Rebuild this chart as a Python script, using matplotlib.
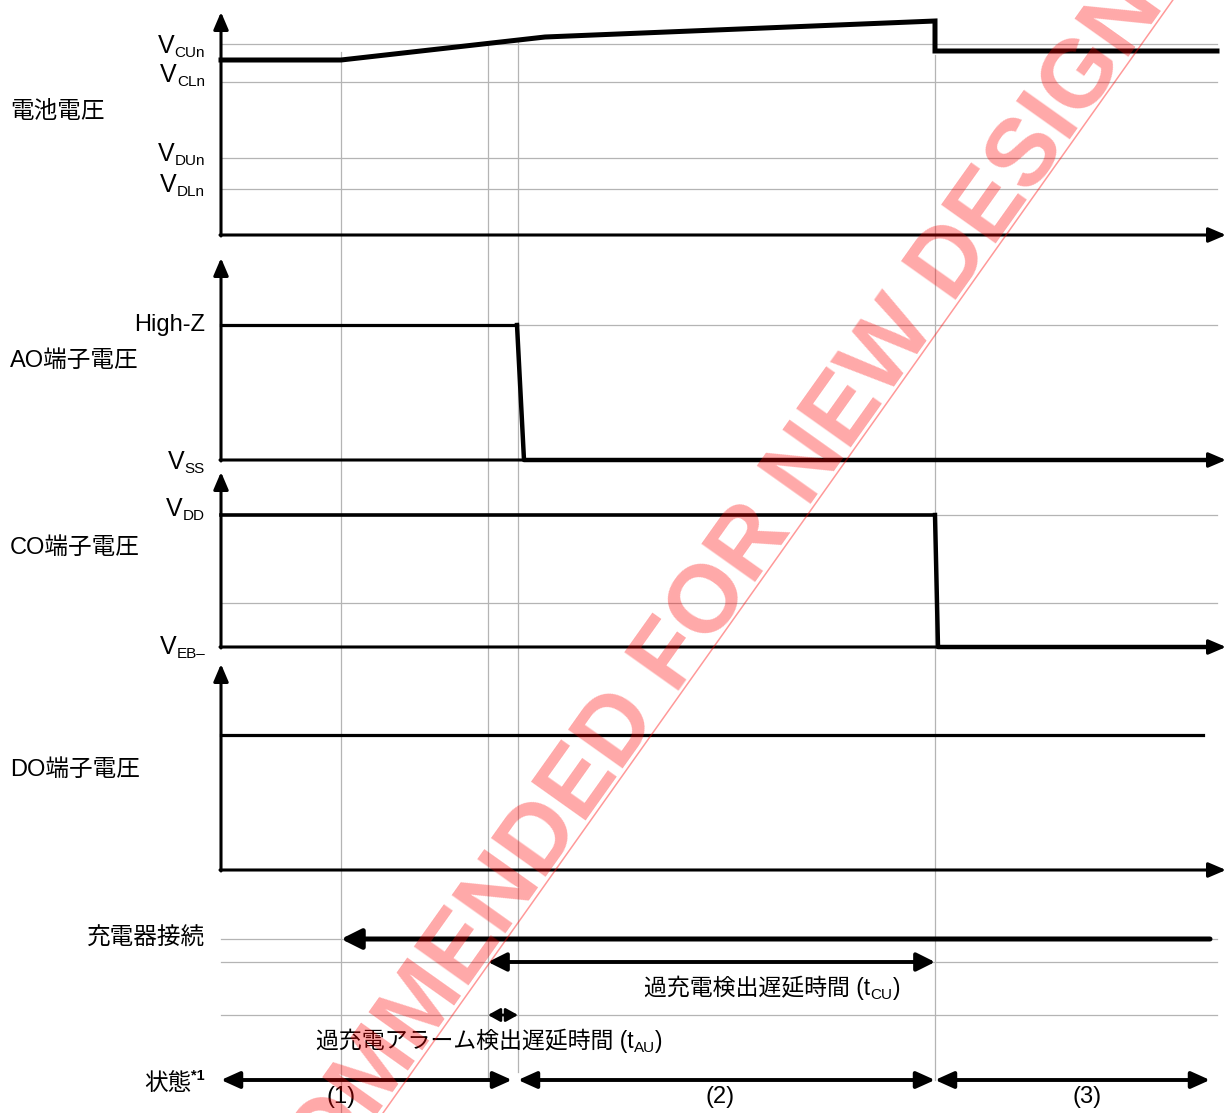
import matplotlib
matplotlib.use("Agg")
import matplotlib.pyplot as plt

FONTS = ['Liberation Sans', 'Noto Sans CJK JP', 'DejaVu Sans']
plt.rcParams['font.family'] = FONTS

# time marks (px-like schematic units)
t_start = 221
t_charger = 341
t_detect = 488
t_alarm = 518
t_cu = 935
t_end = 1217

# level positions for each panel
bat_levels = [44, 82, 158, 189]
bat_labels = [("V", "CUn"), ("V", "CLn"), ("V", "DUn"), ("V", "DLn")]
bat_base = 235
bat_top = 12

# battery voltage trace
bat_t = [221, 341, 545, 935, 935, 1217]
bat_v = [60, 60, 37, 21, 51, 51]

# AO pin
ao_hi, ao_lo, ao_top = 325, 460, 258
ao_t = [221, 517, 524, 1217]
ao_v = [325, 325, 460, 460]

# CO pin
co_hi, co_mid, co_lo, co_top = 515, 603, 647, 472
co_t = [221, 935, 938, 1217]
co_v = [515, 515, 647, 647]

# DO pin
do_lvl, do_base, do_top = 735, 870, 664
do_t = [221, 1203]
do_v = [735, 735]

# bottom rows
row_charger = 939
row_tcu = 962
row_tau = 1015
row_state = 1080
states = ["(1)", "(2)", "(3)"]
state_spans = [(221, 512), (518, 935), (935, 1210)]
state_label_x = [341, 720, 1087]

fig = plt.figure(figsize=(12.31, 11.13), dpi=100)
ax = fig.add_axes([0, 0, 1, 1])
ax.set_xlim(0, 1231)
ax.set_ylim(1113, 0)
ax.axis('off')

grid_c = '#b4b4b4'
grid_lw = 0.9

# horizontal grid lines
for y in bat_levels + [ao_hi, co_hi, co_mid, row_charger, row_tcu, row_tau]:
    ax.plot([t_start, t_end], [y, y], color=grid_c, lw=grid_lw, zorder=1)

# vertical grid lines
ax.plot([t_charger, t_charger], [52, 1113], color=grid_c, lw=grid_lw, zorder=1)
ax.plot([t_detect, t_detect], [45, 1078], color=grid_c, lw=grid_lw, zorder=1)
ax.plot([t_alarm, t_alarm], [40, 1072], color=grid_c, lw=grid_lw, zorder=1)
ax.plot([t_cu, t_cu], [55, 1080], color=grid_c, lw=grid_lw, zorder=1)

axis_lw = 2.2
head = '-|>,head_length=0.75,head_width=0.32'


def axis_arrows(base, top):
    ax.annotate('', xy=(t_start, top), xytext=(t_start, base + 1),
                arrowprops=dict(arrowstyle=head, lw=axis_lw, color='k',
                                shrinkA=0, shrinkB=0, mutation_scale=14), zorder=2)
    ax.annotate('', xy=(1226, base), xytext=(t_start - 1, base),
                arrowprops=dict(arrowstyle=head, lw=axis_lw, color='k',
                                shrinkA=0, shrinkB=0, mutation_scale=14), zorder=2)


axis_arrows(bat_base, bat_top)
axis_arrows(ao_lo, ao_top)
axis_arrows(co_lo, co_top)
axis_arrows(do_base, do_top)

# traces
ax.plot(bat_t, bat_v, color='k', lw=3.6, solid_joinstyle='miter', zorder=3)
ax.plot(ao_t[:2], ao_v[:2], color='k', lw=2.3, zorder=3)
ax.plot(ao_t[1:], ao_v[1:], color='k', lw=3.2, zorder=3)
ax.plot(co_t[:2], co_v[:2], color='k', lw=2.6, zorder=3)
ax.plot(co_t[1:], co_v[1:], color='k', lw=3.2, zorder=3)
ax.plot(do_t, do_v, color='k', lw=2.3, zorder=3)


def arrow(x0, x1, y, style, lw, ms):
    ax.annotate('', xy=(x1, y), xytext=(x0, y),
                arrowprops=dict(arrowstyle=style, lw=lw, color='k',
                                shrinkA=0, shrinkB=0, mutation_scale=ms), zorder=3)


arrow(1210, t_charger, row_charger, '-|>,head_length=0.8,head_width=0.4', 3.6, 15)
arrow(t_detect, t_cu, row_tcu, '<|-|>,head_length=0.8,head_width=0.4', 2.8, 14)
arrow(t_detect, t_alarm, row_tau, '<|-|>,head_length=0.9,head_width=0.5', 2.0, 8)
for x0, x1 in state_spans:
    arrow(x0, x1, row_state, '<|-|>,head_length=0.8,head_width=0.36', 2.8, 14)

renderer = fig.canvas.get_renderer()


def rich(x, y, parts, ha='left'):
    # parts: (string, fontsize, baseline shift px, weight)
    objs = []
    for s, size, dy, wt in parts:
        t = ax.text(0, 0, s, fontsize=size, va='baseline', ha='left',
                    fontweight=wt, zorder=4)
        objs.append((t, dy))
    widths = [t.get_window_extent(renderer).width for t, _ in objs]
    total = sum(widths)
    if ha == 'right':
        x0 = x - total
    elif ha == 'center':
        x0 = x - total / 2
    else:
        x0 = x
    for (t, dy), w in zip(objs, widths):
        t.set_position((x0, y + dy))
        x0 += w


FS = 17
VFS = 18
SUB = 11
lab_x = 205

# battery level labels
for yc, (v, sub) in zip([44, 73, 152, 183], bat_labels):
    rich(lab_x, yc + 9, [(v, VFS, 0, 'normal'), (sub, SUB, 4, 'normal')], ha='right')

rich(lab_x, 323 + 8, [("High-Z", FS, 0, 'normal')], ha='right')
rich(lab_x, 460 + 9, [("V", VFS, 0, 'normal'), ("SS", SUB, 4, 'normal')], ha='right')
rich(lab_x, 507 + 9, [("V", VFS, 0, 'normal'), ("DD", SUB, 4, 'normal')], ha='right')
rich(lab_x, 645 + 9, [("V", VFS, 0, 'normal'), ("EB\u2013", SUB, 4, 'normal')], ha='right')

# row titles
for s, yc in [("電池電圧", 112), ("AO端子電圧", 361), ("CO端子電圧", 548), ("DO端子電圧", 770)]:
    ax.text(10, yc, s, fontsize=FS, va='center', ha='left', zorder=4)

ax.text(lab_x, row_charger, "充電器接続", fontsize=FS, va='center', ha='right', zorder=4)
rich(lab_x, 1090, [("状態", FS, 0, 'normal'), ("*1", 10.5, -10, 'bold')], ha='right')

rich(900, 995, [("過充電検出遅延時間 (t", 16.5, 0, 'normal'), ("CU", SUB, 4, 'normal'),
                (")", 16.5, 0, 'normal')], ha='right')
rich(316, 1048, [("過充電アラーム検出遅延時間 (t", 16.5, 0, 'normal'), ("AU", SUB, 4, 'normal'),
                 (")", 16.5, 0, 'normal')], ha='left')

for s, x in zip(states, state_label_x):
    ax.text(x, 1097, s, fontsize=FS, va='center', ha='center', zorder=4)

# watermark
ax.plot([383, 1175], [1113, -3], color='red', lw=1.1, alpha=0.4, zorder=5)
ax.text(80, 1532, "NOT RECOMMENDED FOR NEW DESIGN", fontsize=69, fontweight='bold',
        color='red', alpha=0.34, rotation=54.6, rotation_mode='anchor',
        ha='left', va='baseline', zorder=5)

fig.savefig("out.png", dpi=100)
